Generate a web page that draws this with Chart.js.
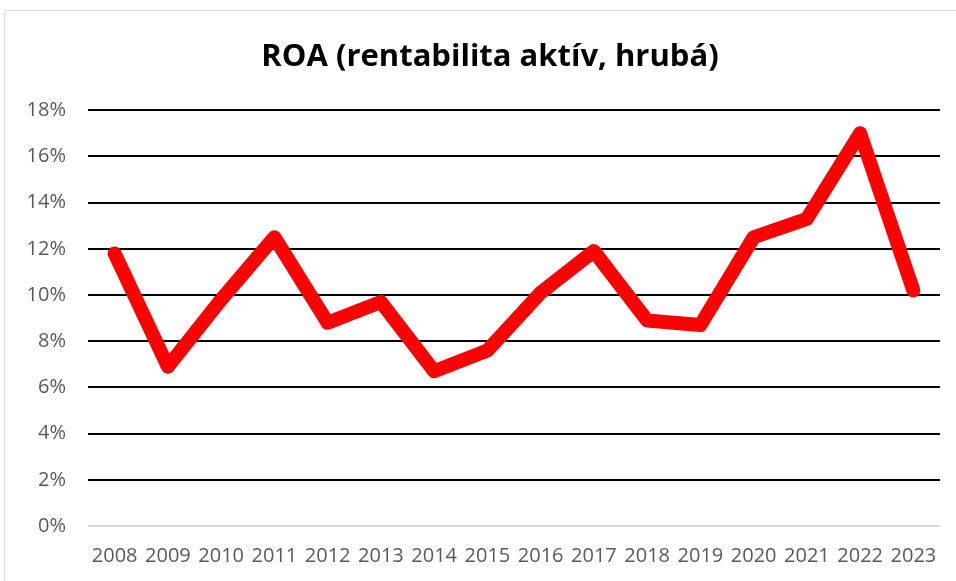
<!DOCTYPE html>
<html>
<head>
<meta charset="utf-8">
<script src="https://cdn.jsdelivr.net/npm/chart.js@4/dist/chart.umd.min.js"></script>
<style>
  html, body { margin: 0; padding: 0; background: #fff; overflow: hidden; }
  #frame {
    position: absolute; left: 4px; top: 10px; width: 1000px; height: 600px;
    border: 1px solid #d9d9d9; border-radius: 3px; box-sizing: border-box;
  }
  #wrap { position: absolute; left: 0; top: 0; width: 956px; height: 581px; }
</style>
</head>
<body>
<div id="frame"></div>
<div id="wrap"><canvas id="c" width="956" height="581"></canvas></div>
<script>
// Gross return on assets by year (%)
const years = ['2008','2009','2010','2011','2012','2013','2014','2015',
               '2016','2017','2018','2019','2020','2021','2022','2023'];
const roa = [11.8, 6.9, 9.8, 12.5, 8.8, 9.7, 6.7, 7.6,
             10.1, 11.9, 8.9, 8.7, 12.5, 13.3, 17.0, 10.2];
const yTicks = [0, 2, 4, 6, 8, 10, 12, 14, 16, 18];

const tickFont = { family: '"Open Sans", "Noto Sans", sans-serif', size: 20 };

new Chart(document.getElementById('c'), {
  type: 'line',
  data: {
    labels: years,
    datasets: [{
      label: 'ROA',
      data: roa,
      borderColor: '#ff0000',
      backgroundColor: '#ff0000',
      borderWidth: 14,
      borderJoinStyle: 'round',
      borderCapStyle: 'round',
      pointRadius: 0,
      pointHoverRadius: 0,
      tension: 0,
      fill: false
    }]
  },
  options: {
    responsive: false,
    animation: false,
    layout: { padding: { left: 24, right: 0, top: 0, bottom: 0 } },
    plugins: {
      legend: { display: false },
      tooltip: { enabled: false },
      title: {
        display: true,
        text: 'ROA (rentabilita aktív, hrubá)',
        color: '#000',
        font: { family: '"Open Sans", "Noto Sans", sans-serif', size: 31, weight: 'bold' },
        padding: { top: 39, bottom: 34 }
      }
    },
    scales: {
      x: {
        offset: true,
        grid: { display: false, drawTicks: false },
        border: { display: false },
        ticks: { color: '#595959', font: tickFont, padding: 18, maxRotation: 0, autoSkip: false },
        afterFit: s => { s.height = 55; }
      },
      y: {
        min: 0,
        max: 18,
        afterBuildTicks: s => { s.ticks = yTicks.map(v => ({ value: v })); },
        grid: {
          drawTicks: false,
          lineWidth: 2,
          color: ctx => ctx.tick && ctx.tick.value === 0 ? '#d9d9d9' : '#000'
        },
        border: { display: false },
        ticks: {
          color: '#595959',
          font: tickFont,
          padding: 22,
          callback: v => v + '%'
        },
        afterFit: s => { s.width = 64; }
      },
      // empty right-hand margin axis (keeps the plot edge at the frame's inner margin)
      yRight: {
        type: 'linear',
        position: 'right',
        display: true,
        grid: { display: false, drawTicks: false },
        border: { display: false },
        ticks: { display: false },
        afterFit: s => { s.width = 16; }
      }
    }
  }
});
</script>
</body>
</html>
